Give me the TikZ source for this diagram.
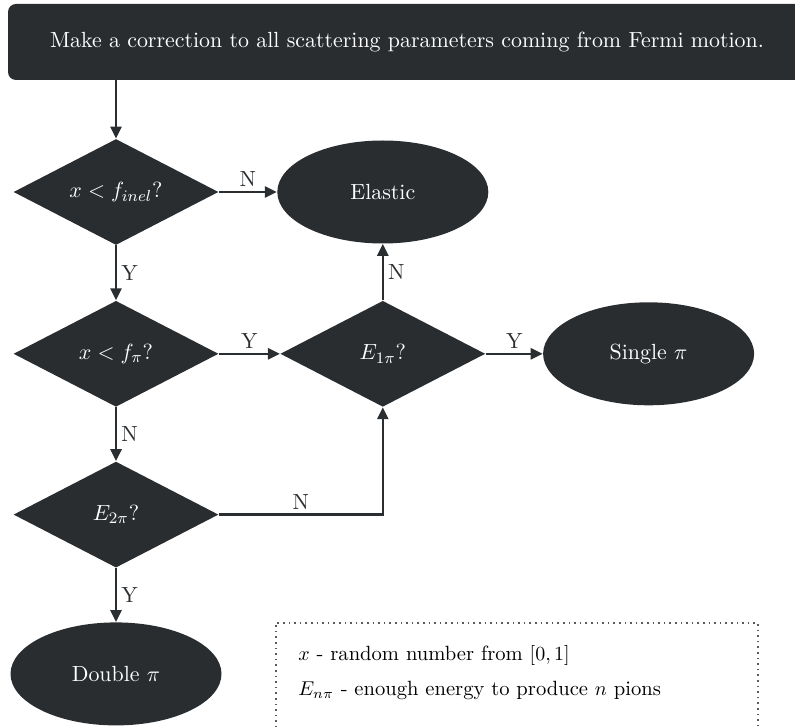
\documentclass[tikz,border=0pt]{standalone}
\usepackage{xcolor}
\usepackage{tikz}
\usetikzlibrary{shapes.geometric, arrows.meta, positioning}
\usepackage{amsmath}
\definecolor{boxdark}{RGB}{41,45,48}
\definecolor{linedark}{RGB}{43,46,49}
\definecolor{keygray}{RGB}{90,90,90}
\newcommand{\chartfont}{\fontsize{10.95}{13}\selectfont}
\newcommand{\keyfont}{\fontsize{10.3}{12.5}\selectfont}
\tikzset{
  startbox/.style={rectangle, rounded corners=4pt, minimum width=399pt,
    minimum height=38pt, align=center, fill=boxdark, text=white, font=\chartfont},
  decision/.style={diamond, aspect=2, inner sep=0pt, minimum width=102.5pt,
    minimum height=53pt, fill=boxdark, text=white, font=\chartfont},
  outcome/.style={ellipse, minimum width=105.5pt, minimum height=51.5pt,
    fill=boxdark, text=white, font=\chartfont},
  keybox/.style={rectangle, draw=keygray, dotted, thick, minimum width=241pt,
    minimum height=60pt},
  arrow/.style={-{Triangle[length=6pt, width=5.5pt]}, line width=1.3pt, color=linedark},
  yn/.style={font=\chartfont, text=linedark, inner sep=2pt},
}

\begin{document}
\begin{tikzpicture}[x=0.5pt, y=-0.5pt]
  \useasboundingbox (0,0) rectangle (795,726);
  \clip (0,0) rectangle (795,726);
  \node[startbox] (corr) at (407,42)
    {Make a correction to all scattering parameters coming from Fermi motion.};
  \node[decision] (inel) at (116,192) {$x<f_{inel}$?};
  \node[outcome, right=29pt of inel] (elastic) {Elastic};
  \node[decision, below=27.5pt of inel] (fpi) {$x<f_\pi$?};
  \node[decision, right=30.5pt of fpi] (eone) {$E_{1\pi}$?};
  \node[outcome, right=28.5pt of eone] (single) {Single $\pi$};
  \node[decision, below=27pt of fpi] (etwo) {$E_{2\pi}$?};
  \node[outcome, below=27pt of etwo] (double) {Double $\pi$};
  % key
  \node[keybox, anchor=north west] (key) at (275,622) {};
  \node[anchor=north west, align=left, inner sep=0pt, font=\keyfont] (keytext)
    at ([xshift=11.5pt, yshift=-11.5pt]key.north west)
    {$x$ - random number from $[0,1]$\\[5pt]
     $E_{n\pi}$ - enough energy to produce $n$ pions};
  % connectors
  \draw[arrow] (corr.south -| inel) -- (inel);
  \draw[arrow] (inel) -- node[yn, above] {N} (elastic);
  \draw[arrow] (inel) -- node[yn, right] {Y} (fpi);
  \draw[arrow] (fpi) -- node[yn, above] {Y} (eone);
  \draw[arrow] (eone) -- node[yn, right] {N} (elastic);
  \draw[arrow] (eone) -- node[yn, above] {Y} (single);
  \draw[arrow] (fpi) -- node[yn, right] {N} (etwo);
  \draw[arrow] (etwo) -| node[yn, above, pos=0.25] {N} (eone);
  \draw[arrow] (etwo) -- node[yn, right] {Y} (double);
\end{tikzpicture}
\end{document}
